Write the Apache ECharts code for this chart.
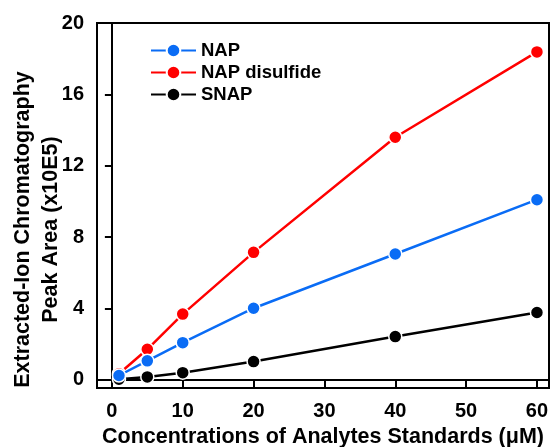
<!DOCTYPE html>
<html>
<head>
<meta charset="utf-8">
<script src="https://cdn.jsdelivr.net/npm/echarts@6/dist/echarts.min.js"></script>
<style>html,body{margin:0;padding:0;background:#fff}#c{width:551px;height:447px}</style>
</head>
<body>
<div id="c"></div>
<script>
var xValues = [1, 5, 10, 20, 40, 60];
var napValues = [0.25, 1.07, 2.09, 4.02, 7.06, 10.1];
var napDisulfideValues = [0.35, 1.72, 3.69, 7.15, 13.6, 18.38];
var snapValues = [0.04, 0.17, 0.41, 1.03, 2.43, 3.78];
var xTicks = [0, 10, 20, 30, 40, 50, 60];
var yTicks = [0, 4, 8, 12, 16, 20];
var seriesNames = ['NAP', 'NAP disulfide', 'SNAP'];
var seriesColors = ['#0a6cf5', '#ff0000', '#000000'];

function pairs(vals) { return xValues.map(function (x, i) { return [x, vals[i]]; }); }
var allVals = [napValues, napDisulfideValues, snapValues];
var font = '"Liberation Sans", Arial, sans-serif';

var chart = echarts.init(document.getElementById('c'), null, {renderer: 'canvas'});
chart.setOption({
  animation: false,
  backgroundColor: '#fff',
  grid: {left: 97, top: 23, right: 2, bottom: 59, show: true, borderColor: '#000', borderWidth: 2, containLabel: false, outerBoundsMode: 'none'},
  legend: {
    left: 145, top: 36, orient: 'vertical',
    itemWidth: 45, itemHeight: 17, itemGap: 3,
    textStyle: {fontFamily: font, fontWeight: 'bold', fontSize: 18.5, color: '#000'},
    data: seriesNames
  },
  xAxis: {
    type: 'value', min: -2.1, max: 61.7,
    splitLine: {show: false},
    axisLine: {lineStyle: {color: '#000', width: 2}},
    axisTick: {show: true, length: 7, lineStyle: {color: '#000', width: 2}, customValues: xTicks},
    axisLabel: {customValues: xTicks, margin: 13, fontFamily: font, fontWeight: 'bold', fontSize: 20, color: '#000'},
    name: 'Concentrations of Analytes Standards (\u03bcM)',
    nameLocation: 'middle', nameGap: 38, nameMoveOverlap: false,
    nameTextStyle: {fontFamily: font, fontWeight: 'bold', fontSize: 21.5, color: '#000'}
  },
  yAxis: {
    type: 'value', min: -0.45, max: 20,
    splitLine: {show: false},
    axisLine: {lineStyle: {color: '#000', width: 2}},
    axisTick: {show: true, length: 7, lineStyle: {color: '#000', width: 2}, customValues: yTicks},
    axisLabel: {customValues: yTicks, margin: 13, fontFamily: font, fontWeight: 'bold', fontSize: 20, color: '#000'},
    name: 'Extracted-Ion Chromatography\nPeak Area (x10E5)',
    nameLocation: 'middle', nameGap: 32, nameMoveOverlap: false,
    nameTextStyle: {fontFamily: font, fontWeight: 'bold', fontSize: 21.5, color: '#000', lineHeight: 28, padding: [0, 48, 0, 0]}
  },
  series: seriesNames.map(function (n, i) {
    return {
      name: n, type: 'line', data: pairs(allVals[i]),
      symbol: 'circle', symbolSize: 13,
      lineStyle: {color: seriesColors[i], width: 2.5},
      itemStyle: {color: seriesColors[i], borderColor: '#fff', borderWidth: 1.5},
      z: 3 - i
    };
  })
});
</script>
</body>
</html>
